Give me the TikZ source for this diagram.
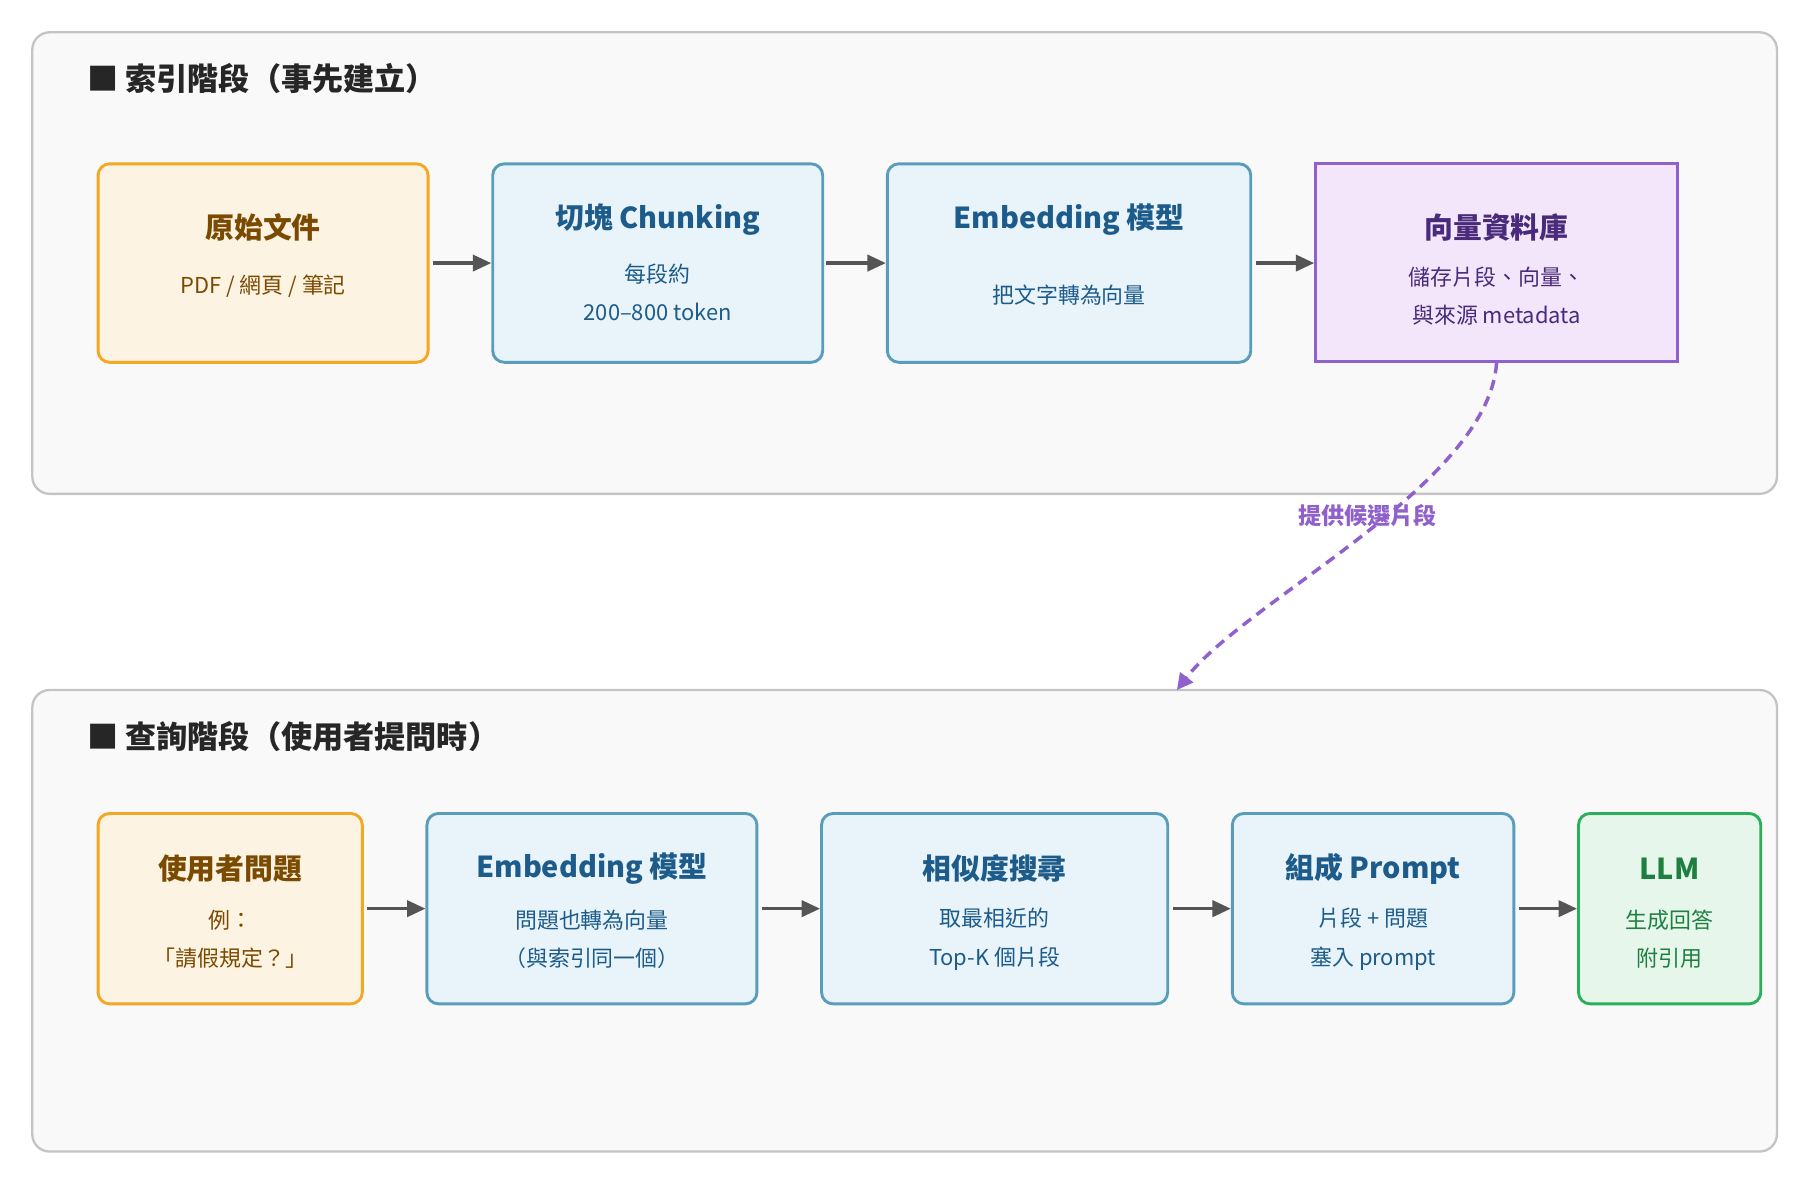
\documentclass[tikz,border=0pt]{standalone}
\usepackage{fontspec}
\setmainfont{Noto Sans CJK TC}
\usetikzlibrary{arrows.meta,shapes.geometric}
\definecolor{pbg}{HTML}{F9F9F9}\definecolor{pbd}{HTML}{C4C4C4}
\definecolor{obd}{HTML}{F5A623}\definecolor{obg}{HTML}{FDF3E3}\definecolor{otx}{HTML}{7A4A00}
\definecolor{bbd}{HTML}{5A9DBA}\definecolor{bbg}{HTML}{E8F4FA}\definecolor{btx}{HTML}{1D5B8A}
\definecolor{vbd}{HTML}{9060CC}\definecolor{vbg}{HTML}{F3E6FA}\definecolor{vtx}{HTML}{4A2A7A}
\definecolor{gbd}{HTML}{2AB05A}\definecolor{gbg}{HTML}{E6F6EA}\definecolor{gtx}{HTML}{1E8040}
\definecolor{arr}{HTML}{555555}
\tikzset{
 panel/.style={draw=pbd,fill=pbg,line width=2pt,rounded corners=15pt},
 ptitle/.style={anchor=west,font=\fontsize{27}{30}\selectfont\bfseries,text=black!85},
 box/.style={rounded corners=10pt,line width=2.5pt,align=center,inner sep=0pt},
 ob/.style={box,draw=obd,fill=obg,text=otx},
 bb/.style={box,draw=bbd,fill=bbg,text=btx},
 gb/.style={box,draw=gbd,fill=gbg,text=gtx},
 bt/.style={font=\fontsize{25}{28}\selectfont\bfseries},
 bd/.style={font=\fontsize{19}{33}\selectfont},
 flow/.style={-{Triangle[length=16pt,width=14pt]},line width=3pt,draw=arr},
}
\begin{document}
\begin{tikzpicture}[x=1pt,y=-1pt]
\useasboundingbox (0,0) rectangle (1560,1022);
\fill[white] (0,0) rectangle (1560,1022);
\draw[panel] (28,28) rectangle (1540,428);
\draw[panel] (28,598) rectangle (1540,998);
\node[ptitle] (t1) at (72,68) {■ 索引階段（事先建立）};
\node[ptitle] (t2) at (72,638) {■ 查詢階段（使用者提問時）};
% row 1
\node[ob,minimum width=286pt,minimum height=172pt] (a1) at (228,228) {};
\node[bt,text=otx] at (228,197) {原始文件};
\node[bd,text=otx] at (228,248) {PDF / 網頁 / 筆記};
\node[bb,minimum width=286pt,minimum height=172pt] (a2) at (570,228) {};
\node[bt,text=btx] at (570,190) {切塊 Chunking};
\node[bd,text=btx,align=center] at (570,253) {每段約\\200–800 token};
\node[bb,minimum width=315pt,minimum height=172pt] (a3) at (926.5,228) {};
\node[bt,text=btx] at (926.5,190) {Embedding 模型};
\node[bd,text=btx] at (926.5,256) {把文字轉為向量};
\node[cylinder,shape border rotate=90,aspect=0.09,draw=vbd,fill=vbg,line width=2.5pt,minimum width=314pt,minimum height=172pt,inner sep=0pt] (a4) at (1297,228) {};
\node[bt,text=vtx] at (1297,197) {向量資料庫};
\node[bd,text=vtx,align=center] at (1297,257) {儲存片段、向量、\\與來源 metadata};
\draw[flow] (a1.east) ++(3,0) coordinate (s1) -- (a2.west);
\draw[flow] (a2) ++(146,0) coordinate (s2) -- (a3.west);
\draw[flow] (a3.east) ++(3,0) coordinate (s3) -- (1139,228) coordinate (e3);
% row 2
\node[ob,minimum width=229pt,minimum height=165pt] (b1) at (199.5,787.5) {};
\node[bt,text=otx] at (199.5,753) {使用者問題};
\node[bd,text=otx,align=center] at (199.5,814) {例：\\「請假規定？」};
\node[bb,minimum width=286pt,minimum height=165pt] (b2) at (513,787.5) {};
\node[bt,text=btx] at (513,753) {Embedding 模型};
\node[bd,text=btx,align=center] at (513,814) {問題也轉為向量\\（與索引同一個）};
\node[bb,minimum width=300pt,minimum height=165pt] (b3) at (862,787.5) {};
\node[bt,text=btx] at (862,753) {相似度搜尋};
\node[bd,text=btx,align=center] at (862,814) {取最相近的\\Top-K 個片段};
\node[bb,minimum width=244pt,minimum height=165pt] (b4) at (1190,787.5) {};
\node[bt,text=btx] at (1190,753) {組成 Prompt};
\node[bd,text=btx,align=center] at (1190,814) {片段 + 問題\\塞入 prompt};
\node[gb,minimum width=158pt,minimum height=165pt] (b5) at (1447,787.5) {};
\node[bt,text=gtx] at (1447,753) {LLM};
\node[bd,text=gtx,align=center] at (1447,814) {生成回答\\附引用};
\draw[flow] (b1.east) ++(3,0) coordinate (r1) -- (b2.west);
\draw[flow] (b2.east) ++(3,0) coordinate (r2) -- (b3.west);
\draw[flow] (b3.east) ++(3,0) coordinate (r3) -- (b4.west);
\draw[flow] (b4.east) ++(3,0) coordinate (r4) -- (b5.west);
% dashed
\coordinate (d1) at (1020,598);
\draw[vbd,line width=3pt,dash pattern=on 9pt off 6pt,-{Triangle[length=14pt,width=14pt]}] (a4.south) .. controls (1290,420) and (1080,520) .. (d1);
\node[font=\fontsize{20}{24}\selectfont\bfseries,text=vbd] (lab) at (1185,447) {提供候選片段};
\end{tikzpicture}
\end{document}
